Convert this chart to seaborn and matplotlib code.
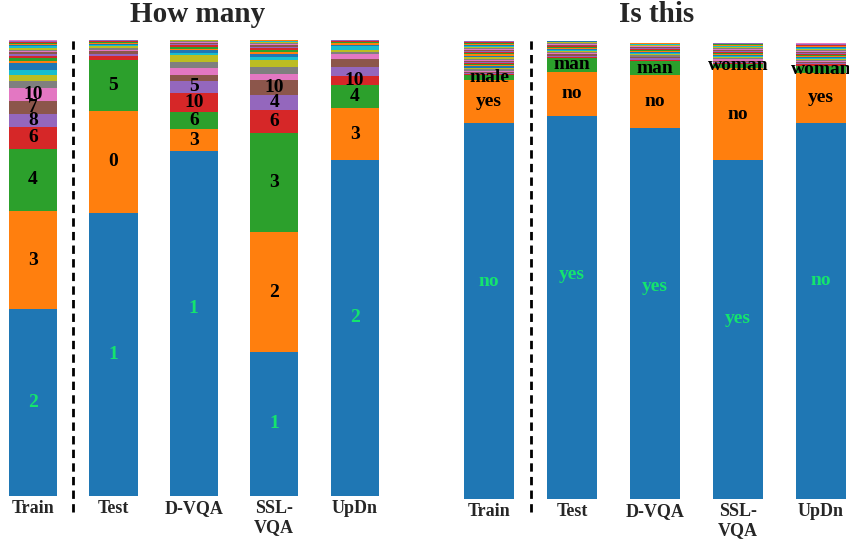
import numpy as np
import pandas as pd
import matplotlib
matplotlib.use("Agg")
import matplotlib.pyplot as plt
import seaborn as sns

sns.set_theme(style="white")
plt.rcParams['font.family'] = ['Liberation Serif', 'DejaVu Serif']

models = ["Train", "Test", "D-VQA", "SSL-\nVQA", "UpDn"]

# ---------------- "How many" panel (answer shares, sorted by frequency) -------------
hm_train_vals = [0.409, 0.216, 0.136, 0.049, 0.028, 0.029, 0.028]
hm_train_labels = ["2", "3", "4", "6", "8", "7", "10"]
hm_train_tail = [0.015, 0.013, 0.012, 0.015, 0.004, 0.006, 0.005, 0.004, 0.004, 0.003,
                 0.003, 0.004, 0.003, 0.003, 0.002, 0.002, 0.002, 0.002, 0.001, 0.001, 0.001]

hm_test_vals = [0.621, 0.224, 0.110]
hm_test_labels = ["1", "0", "5"]
hm_test_tail = [0.009, 0.006, 0.005, 0.004, 0.004, 0.003, 0.003, 0.003, 0.002, 0.002,
                0.002, 0.001, 0.001, 0.001]

hm_dvqa_vals = [0.756, 0.048, 0.039, 0.040, 0.028]
hm_dvqa_labels = ["1", "3", "6", "10", "5"]
hm_dvqa_tail = [0.013, 0.015, 0.012, 0.015, 0.005, 0.006, 0.004, 0.004, 0.003, 0.003,
                0.003, 0.002, 0.002, 0.002]

hm_ssl_vals = [0.314, 0.265, 0.216, 0.051, 0.033, 0.033]
hm_ssl_labels = ["1", "2", "3", "6", "4", "10"]
hm_ssl_tail = [0.014, 0.015, 0.015, 0.007, 0.006, 0.005, 0.004, 0.004, 0.003, 0.003,
               0.003, 0.002, 0.002, 0.002, 0.001, 0.001, 0.001]

hm_updn_vals = [0.736, 0.114, 0.051, 0.020]
hm_updn_labels = ["2", "3", "4", "10"]
hm_updn_tail = [0.020, 0.017, 0.012, 0.004, 0.005, 0.008, 0.003, 0.003, 0.002, 0.002,
                0.002, 0.001, 0.001]

# ---------------- "Is this" panel -------------
it_train_vals = [0.820, 0.095, 0.010]
it_train_labels = ["no", "yes", "male"]
it_train_tail = [0.003, 0.002, 0.003, 0.002, 0.003, 0.002, 0.002, 0.003, 0.002, 0.003,
                 0.002, 0.002, 0.003, 0.002, 0.002, 0.003, 0.002, 0.002, 0.003, 0.002,
                 0.002, 0.003, 0.002, 0.002, 0.002, 0.003, 0.002, 0.002, 0.002, 0.002,
                 0.002, 0.002, 0.002]

it_test_vals = [0.836, 0.097, 0.030]
it_test_labels = ["yes", "no", "man"]
it_test_tail = [0.003, 0.002, 0.003, 0.002, 0.002, 0.003, 0.002, 0.002, 0.002, 0.002,
                0.002, 0.002, 0.002, 0.002, 0.001, 0.002, 0.001, 0.002, 0.001, 0.001]

it_dvqa_vals = [0.809, 0.116, 0.032]
it_dvqa_labels = ["yes", "no", "man"]
it_dvqa_tail = [0.002, 0.003, 0.002, 0.002, 0.003, 0.002, 0.002, 0.002, 0.003, 0.002,
                0.002, 0.002, 0.002, 0.002, 0.002, 0.001, 0.002, 0.001, 0.001, 0.001]

it_ssl_vals = [0.740, 0.201, 0.009]
it_ssl_labels = ["yes", "no", "woman"]
it_ssl_tail = [0.003, 0.002, 0.002, 0.003, 0.002, 0.002, 0.003, 0.002, 0.002, 0.002,
               0.003, 0.002, 0.002, 0.002, 0.002, 0.002, 0.002, 0.002, 0.002, 0.001,
               0.001, 0.001]

it_updn_vals = [0.822, 0.108, 0.016]
it_updn_labels = ["no", "yes", "woman"]
it_updn_tail = [0.003, 0.002, 0.003, 0.002, 0.002, 0.003, 0.002, 0.002, 0.002, 0.003,
                0.002, 0.002, 0.002, 0.002, 0.002, 0.002, 0.002, 0.002, 0.002, 0.002,
                0.002, 0.001, 0.001, 0.001]

GREEN = "#14e46e"
palette = sns.color_palette("tab10")
FONT = ['Liberation Serif', 'DejaVu Serif']


def stacked(ax, main_vals, tails, labels, xlim, label_size):
    series = [list(m) + list(t) for m, t in zip(main_vals, tails)]
    K = max(len(s) for s in series)
    padded = np.array([s + [0.0] * (K - len(s)) for s in series])
    cums = np.cumsum(padded, axis=1)
    for k in range(K - 1, -1, -1):
        df = pd.DataFrame({"model": models, "cum": cums[:, k]})
        sns.barplot(data=df, x="model", y="cum", order=models,
                    color=palette[k % 10], width=0.6, saturation=1,
                    errorbar=None, linewidth=0, ax=ax)
    for i, labs in enumerate(labels):
        for j, lab in enumerate(labs):
            bottom = cums[i, j - 1] if j > 0 else 0.0
            top = cums[i, j]
            h = top - bottom
            y = top - min(h / 2, 0.345)
            ax.text(i, y, lab, ha="center", va="center", fontsize=label_size,
                    fontweight="bold", family=FONT,
                    color=GREEN if j == 0 else "black")
    ax.set_xlim(*xlim)
    ax.set_ylim(0, 1)
    ax.set_xlabel("")
    ax.set_ylabel("")
    ax.set_yticks([])
    ax.set_xticks(range(len(models)))
    ax.set_xticklabels(models, fontsize=13, fontweight="bold", family=FONT,
                       linespacing=1.15)
    ax.tick_params(axis="x", length=0, pad=3)
    for sp in ax.spines.values():
        sp.set_visible(False)
    ax.patch.set_alpha(0)


W, H = 849, 544
fig = plt.figure(figsize=(W / 100, H / 100), dpi=100)

ax1 = fig.add_axes([0.8 / W, 48.5 / H, 386 / W, 455.5 / H])
stacked(ax1,
        [hm_train_vals, hm_test_vals, hm_dvqa_vals, hm_ssl_vals, hm_updn_vals],
        [hm_train_tail, hm_test_tail, hm_dvqa_tail, hm_ssl_tail, hm_updn_tail],
        [hm_train_labels, hm_test_labels, hm_dvqa_labels, hm_ssl_labels, hm_updn_labels],
        (-0.4, 4.4), 14)
ax1.axvline(0.5, ymin=-0.036, ymax=1.004, color="black", lw=2,
            ls=(0, (3, 1.9)), clip_on=False)

ax2 = fig.add_axes([455.8 / W, 45 / H, 392.6 / W, 458 / H])
stacked(ax2,
        [it_train_vals, it_test_vals, it_dvqa_vals, it_ssl_vals, it_updn_vals],
        [it_train_tail, it_test_tail, it_dvqa_tail, it_ssl_tail, it_updn_tail],
        [it_train_labels, it_test_labels, it_dvqa_labels, it_ssl_labels, it_updn_labels],
        (-0.4, 4.33), 14)
ax2.axvline(0.5, ymin=-0.028, ymax=1.006, color="black", lw=2,
            ls=(0, (3, 1.9)), clip_on=False)

fig.text(198 / W, 1 - 14 / H, "How many", ha="center", va="center",
         fontsize=21, fontweight="bold", family=FONT)
fig.text(657 / W, 1 - 14 / H, "Is this", ha="center", va="center",
         fontsize=21, fontweight="bold", family=FONT)

fig.savefig("out.png", dpi=100)
